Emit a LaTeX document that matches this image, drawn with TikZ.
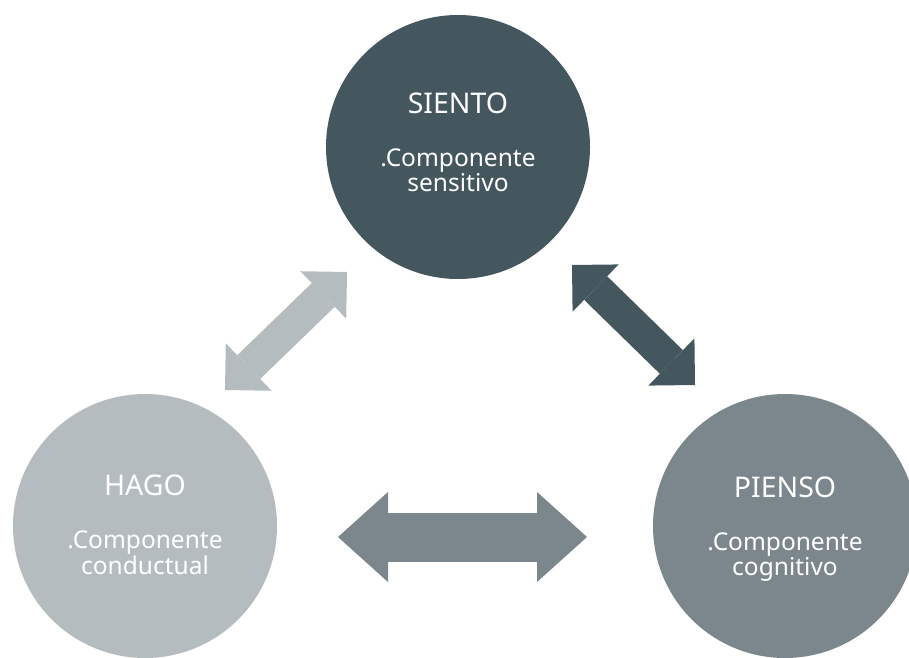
\documentclass[tikz,border=0pt]{standalone}
\usepackage{fontspec}
\setmainfont{Noto Sans}
\usetikzlibrary{arrows.meta}

\definecolor{slatedark}{HTML}{44575F}
\definecolor{slatemid}{HTML}{7B878C}
\definecolor{slatelight}{HTML}{B5BCBF}

\newcommand{\circtitle}{\fontsize{28.5}{28.5}\selectfont}
\newcommand{\circsub}{\fontsize{24.5}{22.5}\selectfont}

\tikzset{
  bubble/.style={circle, minimum size=264pt, inner sep=0pt, draw=none},
  caption/.style={anchor=north, inner sep=0pt, text=white, align=center, font=\circsub},
  diagarrow/.style={line width=33pt,
    {Triangle[length=33pt,width=66pt,line width=0pt]}-{Triangle[length=33pt,width=66pt,line width=0pt]}},
  flatarrow/.style={line width=49pt,
    {Triangle[length=50pt,width=90pt,line width=0pt]}-{Triangle[length=50pt,width=90pt,line width=0pt]}}
}

\begin{document}
\begin{tikzpicture}[x=1pt, y=1pt]
      \useasboundingbox (0,0) rectangle (909,657);
      \node [bubble, fill=slatedark] (siento) at (458,510) {};
      \node [bubble, fill=slatelight] (hago) at (145,131) {};
      \node [bubble, fill=slatemid] (pienso) at (785,131) {};
      \node [caption] (sientotxt) at ([yshift=54pt]siento.center) {{\circtitle SIENTO}\\[30.5pt].Componente\\sensitivo};
      \node [caption] (hagotxt) at ([yshift=51pt]hago.center) {{\circtitle HAGO}\\[30.5pt].Componente\\conductual};
      \node [caption] (piensotxt) at ([yshift=49pt]pienso.center) {{\circtitle PIENSO}\\[30.5pt].Componente\\cognitivo};
      \coordinate (hagoup) at (225,267);
      \coordinate (sientoleft) at (347,385);
      \coordinate (sientoright) at (572,392);
      \coordinate (piensoup) at (695,272);
      \coordinate (hagoright) at (338,120);
      \coordinate (piensoleft) at (587,120);
      \draw [diagarrow, slatelight] (hagoup) -- (sientoleft);
      \draw [diagarrow, slatedark] (sientoright) -- (piensoup);
      \draw [flatarrow, slatemid] (hagoright) -- (piensoleft);
      \end{tikzpicture}
\end{document}
